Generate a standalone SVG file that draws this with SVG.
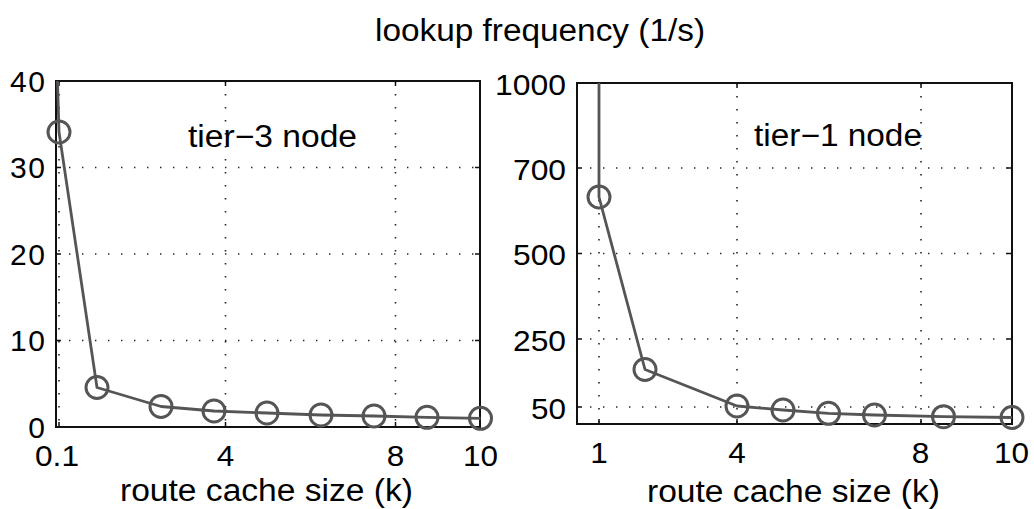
<svg xmlns="http://www.w3.org/2000/svg" width="1034" height="509" viewBox="0 0 1034 509">
  <style>
    text { font-family: "Liberation Sans", Arial, sans-serif; fill: #000; }
    .tick { font-size: 30px; }
    .lbl { font-size: 31px; }
    .box { fill: none; stroke: #111; stroke-width: 2; }
    .tk { stroke: #111; stroke-width: 1.5; }
    .grid { stroke: #222; stroke-width: 1.6; stroke-dasharray: 1.4 11.6; fill: none; }
    .data { fill: none; stroke: #555; stroke-width: 2.8; stroke-linejoin: round; }
    .mk { fill: none; stroke: #555; stroke-width: 3; }
  </style>

  <!-- overall title -->
  <text class="lbl" x="540" y="41" text-anchor="middle" textLength="330" lengthAdjust="spacingAndGlyphs">lookup frequency (1/s)</text>

  <!-- left panel: tier-3 node -->
  <g id="panel-tier3">
    <g id="tier3-grid">
      <line class="grid" x1="56" y1="340.5" x2="480" y2="340.5"/>
      <line class="grid" x1="56" y1="254" x2="480" y2="254"/>
      <line class="grid" x1="56" y1="167.5" x2="480" y2="167.5"/>
      <line class="grid" x1="59" y1="81" x2="59" y2="427"/>
      <line class="grid" x1="225.5" y1="81" x2="225.5" y2="427"/>
      <line class="grid" x1="395.5" y1="81" x2="395.5" y2="427"/>
    </g>
    <g id="tier3-ticks">
      <path class="tk" d="M56 340.5h5M56 254h5M56 167.5h5M480 340.5h-5M480 254h-5M480 167.5h-5
                         M59 427v-5M225.5 427v-5M395.5 427v-5M59 81v5M225.5 81v5M395.5 81v5"/>
    </g>
    <rect class="box" x="56" y="81" width="424" height="346"/>
    <g id="tier3-ylabels" class="tick" text-anchor="end" lengthAdjust="spacingAndGlyphs">
      <text x="45" y="92" textLength="35">40</text>
      <text x="45" y="178" textLength="35">30</text>
      <text x="45" y="264.5" textLength="35">20</text>
      <text x="45" y="351" textLength="35">10</text>
      <text x="45" y="438" textLength="17.5">0</text>
    </g>
    <g id="tier3-xlabels" class="tick" text-anchor="middle">
      <text x="57" y="466" textLength="44" lengthAdjust="spacingAndGlyphs">0.1</text>
      <text x="225.5" y="466" textLength="17.5" lengthAdjust="spacingAndGlyphs">4</text>
      <text x="395.5" y="466" textLength="17.5" lengthAdjust="spacingAndGlyphs">8</text>
      <text x="480.5" y="466" textLength="35" lengthAdjust="spacingAndGlyphs">10</text>
    </g>
    <text class="lbl" x="266.5" y="501" text-anchor="middle" textLength="293" lengthAdjust="spacingAndGlyphs">route cache size (k)</text>
    <text class="lbl" x="188" y="147" textLength="169" lengthAdjust="spacingAndGlyphs">tier−3 node</text>
    <g id="tier3-series">
      <polyline class="data" points="57.5,81 59,132 97,387.5 161,406.5 214,411 267,413 321,415 374,416 427,417.3 480.5,418.3"/>
      <g class="mk">
        <circle cx="59" cy="132" r="11"/>
        <circle cx="97" cy="387.5" r="11"/>
        <circle cx="161" cy="406.5" r="11"/>
        <circle cx="214" cy="411" r="11"/>
        <circle cx="267" cy="413" r="11"/>
        <circle cx="321" cy="415" r="11"/>
        <circle cx="374" cy="416" r="11"/>
        <circle cx="427" cy="417.3" r="11"/>
        <circle cx="480.5" cy="418.3" r="11"/>
      </g>
    </g>
  </g>

  <!-- right panel: tier-1 node -->
  <g id="panel-tier1">
    <g id="tier1-grid">
      <line class="grid" x1="577" y1="168" x2="1012" y2="168"/>
      <line class="grid" x1="577" y1="253.5" x2="1012" y2="253.5"/>
      <line class="grid" x1="577" y1="339" x2="1012" y2="339"/>
      <line class="grid" x1="577" y1="407" x2="1012" y2="407"/>
      <line class="grid" x1="599" y1="83" x2="599" y2="424"/>
      <line class="grid" x1="737" y1="83" x2="737" y2="424"/>
      <line class="grid" x1="921" y1="83" x2="921" y2="424"/>
    </g>
    <g id="tier1-ticks">
      <path class="tk" d="M577 168h5M577 253.5h5M577 339h5M577 407h5M1012 168h-5M1012 253.5h-5M1012 339h-5M1012 407h-5
                         M599 424v-5M737 424v-5M921 424v-5M599 83v5M737 83v5M921 83v5"/>
    </g>
    <rect class="box" x="577" y="83" width="435" height="341"/>
    <g id="tier1-ylabels" class="tick" text-anchor="end">
      <text x="566" y="95" textLength="71" lengthAdjust="spacingAndGlyphs">1000</text>
      <text x="566" y="179.5" textLength="53" lengthAdjust="spacingAndGlyphs">700</text>
      <text x="566" y="265" textLength="53" lengthAdjust="spacingAndGlyphs">500</text>
      <text x="566" y="351" textLength="53" lengthAdjust="spacingAndGlyphs">250</text>
      <text x="566" y="418.5" textLength="35" lengthAdjust="spacingAndGlyphs">50</text>
    </g>
    <g id="tier1-xlabels" class="tick" text-anchor="middle">
      <text x="599" y="463" textLength="17.5" lengthAdjust="spacingAndGlyphs">1</text>
      <text x="737" y="463" textLength="17.5" lengthAdjust="spacingAndGlyphs">4</text>
      <text x="920.5" y="463" textLength="17.5" lengthAdjust="spacingAndGlyphs">8</text>
      <text x="1011.5" y="463" textLength="35" lengthAdjust="spacingAndGlyphs">10</text>
    </g>
    <text class="lbl" x="793.5" y="502" text-anchor="middle" textLength="293" lengthAdjust="spacingAndGlyphs">route cache size (k)</text>
    <text class="lbl" x="754" y="146" textLength="168" lengthAdjust="spacingAndGlyphs">tier−1 node</text>
    <g id="tier1-series">
      <polyline class="data" points="599,83 599,197 645,369.5 737,406 783,410 828.5,413.3 874.5,415 943.5,416.7 1012,417.5"/>
      <g class="mk">
        <circle cx="599" cy="197" r="11"/>
        <circle cx="645" cy="369.5" r="11"/>
        <circle cx="737" cy="406" r="11"/>
        <circle cx="783" cy="410" r="11"/>
        <circle cx="828.5" cy="413.3" r="11"/>
        <circle cx="874.5" cy="415" r="11"/>
        <circle cx="943.5" cy="416.7" r="11"/>
        <circle cx="1012" cy="417.5" r="11"/>
      </g>
    </g>
  </g>
</svg>
